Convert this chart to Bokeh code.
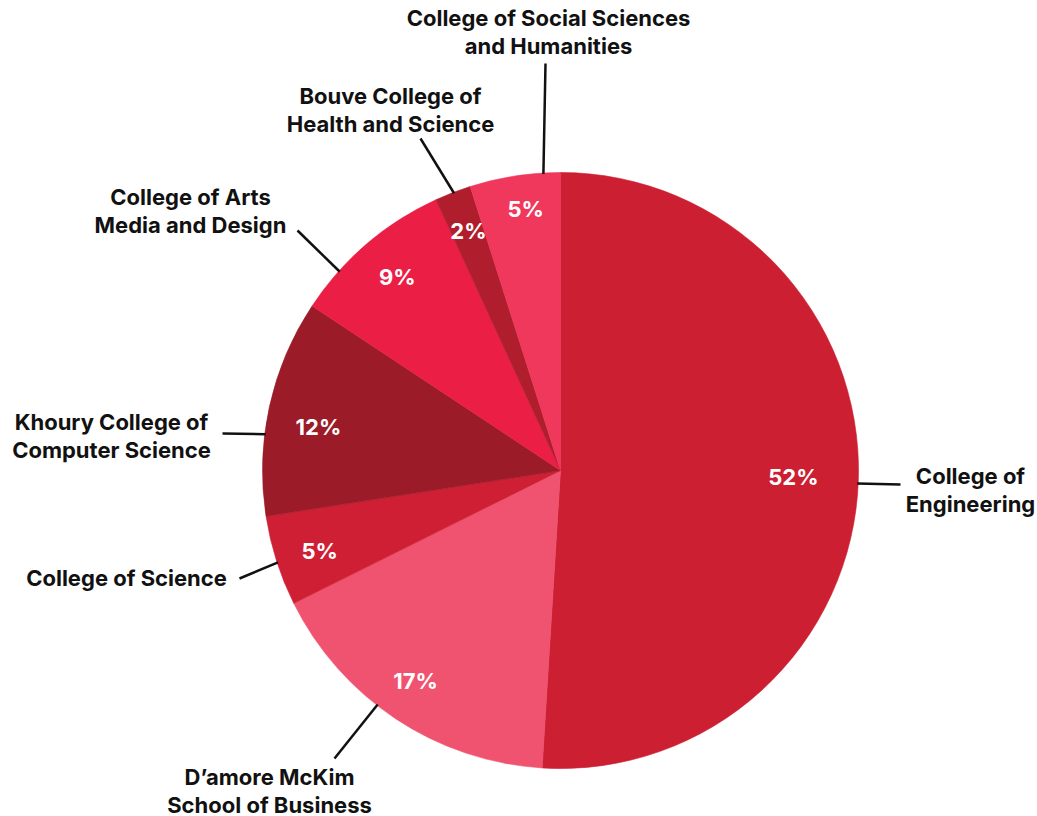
import math
from bokeh.plotting import figure
from bokeh.models import Range1d, ColumnDataSource
from bokeh.core.properties import value
from bokeh.embed import file_html
from bokeh.resources import INLINE

# ---- data ----
colleges = [
    "College of\nEngineering",
    "D\u2019amore McKim\nSchool of Business",
    "College of Science",
    "Khoury College of\nComputer Science",
    "College of Arts\nMedia and Design",
    "Bouve College of\nHealth and Science",
    "College of Social Sciences\nand Humanities",
]
percents = [52, 17, 5, 12, 9, 2, 5]
colors = ["#CC1F32", "#F0536F", "#CE1F34", "#9B1B29", "#EB1E46", "#B01E2E", "#EF385B"]

# ---- layout (page pixel coordinates) ----
CX, CY, R = 560, 470, 298
pct_angle = [91.7, 214.5, 251.6, 280.1, 319.8, 339.0, 352.4]   # degrees clockwise from top
pct_radius = [0.782, 0.859, 0.852, 0.825, 0.848, 0.862, 0.884]
label_pos = [(970, 475), (269, 776), (126, 577), (111, 421), (190, 196), (390, 95), (548, 17)]
leader_angle = [92.5, 218, 252, 277, 312, 339, 356.7]   # degrees clockwise from top, at the rim
leader_end = [(900, 484), (334, 758), (239, 578), (222, 433), (297, 230), (420, 138), (545, 63)]
LINE_H = 28
FONT = "Inter"

W, H = 1037, 816
p = figure(width=W, height=H, x_range=Range1d(0, W), y_range=Range1d(-H, 0),
           x_axis_type=None, y_axis_type=None, toolbar_location=None,
           output_backend="svg", min_border=0, outline_line_color=None,
           background_fill_color="white", border_fill_color="white")
p.grid.visible = False

total = sum(percents)
starts, ends = [], []
cum = 0.0
for v in percents:
    f0 = cum / total
    cum += v
    f1 = cum / total
    starts.append(math.pi / 2 - 2 * math.pi * f0)
    ends.append(math.pi / 2 - 2 * math.pi * f1)

src = ColumnDataSource(dict(start=starts, end=ends, color=colors))
p.wedge(x=CX, y=-CY, radius=R, start_angle="start", end_angle="end", direction="clock",
        fill_color="color", line_color="color", line_width=0.6, source=src)

# percentage labels
px, py, pt = [], [], []
for v, ang, rf in zip(percents, pct_angle, pct_radius):
    a = math.radians(ang)
    px.append(CX + R * rf * math.sin(a))
    py.append(-(CY - R * rf * math.cos(a)))
    pt.append(f"{v}%")
p.text(x=px, y=py, text=pt, text_color="white", text_font=value(FONT), text_font_style="bold",
       text_font_size="22px", text_align="center", text_baseline="middle")

# leader lines
xs, ys = [], []
for ang, (ex, ey) in zip(leader_angle, leader_end):
    a = math.radians(ang)
    sx = CX + (R - 1) * math.sin(a)
    sy = CY - (R - 1) * math.cos(a)
    xs.append([sx, ex])
    ys.append([-sy, -ey])
p.multi_line(xs=xs, ys=ys, line_color="#111111", line_width=2.5)

# college labels
lx, ly, lt = [], [], []
for name, (x0, y0) in zip(colleges, label_pos):
    for i, line in enumerate(name.split("\n")):
        lx.append(x0)
        ly.append(-(y0 + i * LINE_H))
        lt.append(line)
p.text(x=lx, y=ly, text=lt, text_color="#111111", text_font=value(FONT), text_font_style="bold",
       text_font_size="22px", text_align="center", text_baseline="middle")

open("out.html", "w").write(file_html(p, INLINE))
